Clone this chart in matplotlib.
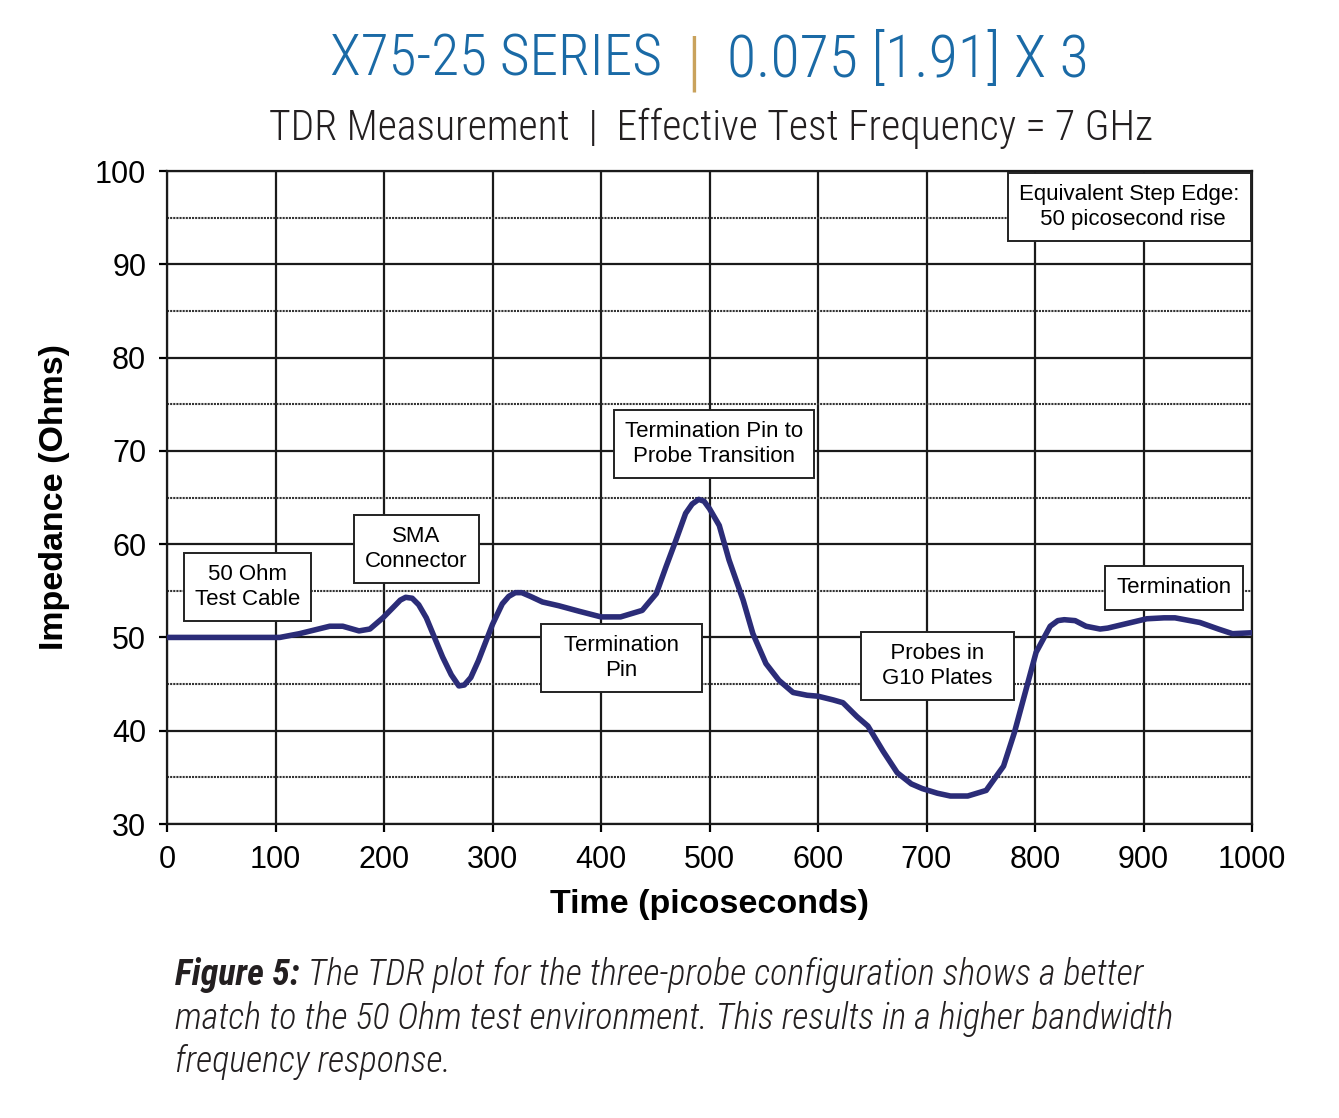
import matplotlib
matplotlib.use("Agg")
import matplotlib.pyplot as plt
import numpy as np

# TDR curve
time_ps = [0, 50, 104, 122, 150, 162, 177, 187, 199, 210, 215, 220, 226, 232, 239, 254,
           262, 269, 274, 280, 287, 300, 309, 315, 321, 327, 335, 346, 361, 380, 400,
           418, 438, 451, 460, 469, 478, 484, 490, 495, 500, 509, 518, 531, 540, 552,
           564, 577, 590, 600, 614, 623, 636, 646, 660, 673, 686, 696, 710, 722, 738,
           755, 771, 781, 791, 801, 814, 821, 827, 837, 847, 860, 867, 885, 903, 919,
           929, 952, 969, 982, 1000]
impedance = [50, 50, 50, 50.4, 51.2, 51.2, 50.7, 50.9, 52.1, 53.4, 54.0, 54.3, 54.2, 53.5,
             52.1, 47.9, 46.0, 44.8, 44.9, 45.7, 47.5, 51.4, 53.6, 54.4, 54.8, 54.8, 54.4,
             53.8, 53.4, 52.8, 52.2, 52.2, 52.9, 54.7, 57.6, 60.4, 63.3, 64.3, 64.8, 64.6,
             63.8, 62.0, 58.3, 54.0, 50.4, 47.2, 45.4, 44.1, 43.8, 43.7, 43.3, 43.0, 41.5,
             40.5, 37.8, 35.5, 34.3, 33.8, 33.3, 33.0, 33.0, 33.6, 36.2, 39.8, 44.1, 48.4,
             51.2, 51.8, 51.9, 51.8, 51.2, 50.9, 51.0, 51.5, 52.0, 52.1, 52.1, 51.6, 50.9,
             50.4, 50.5]

x_ticks = list(range(0, 1001, 100))
y_ticks = list(range(30, 101, 10))

notes = ["50 Ohm\nTest Cable", "SMA\nConnector", "Termination Pin to\nProbe Transition",
         "  Termination  \nPin", "   Probes in   \nG10 Plates", "Termination",
         "Equivalent Step Edge:\n 50 picosecond rise"]
note_x = [74, 230, 504, 419, 710, 928, 887]
note_y = [55.4, 59.5, 70.7, 47.8, 46.9, 55.3, 96.1]

W, H = 1339, 1118
fig = plt.figure(figsize=(W/100, H/100), dpi=100)
ax = fig.add_axes([167/W, 1-824/H, (1252-167)/W, (824-171)/H])

ax.plot(time_ps, impedance, color="#2b2c78", lw=4.0, solid_capstyle="round",
        solid_joinstyle="round", zorder=3)

ax.set_xlim(0, 1000)
ax.set_ylim(30, 100)
ax.set_xticks(x_ticks)
ax.set_yticks(y_ticks)
ax.set_yticks(np.arange(35, 100, 10), minor=True)
ax.grid(which="major", color="#1a1a1a", lw=1.6)
ax.grid(which="minor", axis="y", color="#333333", lw=1.5, ls=(0, (1, 0.5)))
ax.tick_params(which="major", length=6, width=1.6, labelsize=22, pad=9,
               labelfontfamily="Liberation Sans")
ax.tick_params(which="minor", length=0)
for s in ax.spines.values():
    s.set_linewidth(1.6)
    s.set_color("#1a1a1a")

ax.set_xlabel("Time (picoseconds)", fontsize=24.5, fontweight="bold",
              family="Liberation Sans", labelpad=10)
ax.set_ylabel("Impedance (Ohms)", fontsize=24.5, fontweight="bold",
              family="Liberation Sans", labelpad=18)

for t, x, y in zip(notes, note_x, note_y):
    ax.text(x, y, t, ha="center", va="center", fontsize=16, family="Liberation Sans",
            linespacing=1.25, zorder=4,
            bbox=dict(boxstyle="square,pad=0.5", fc="white", ec="#222222", lw=1.4))

narrow = ["Roboto Condensed", "Roboto", "DejaVu Sans"]
fig.canvas.draw()
r = fig.canvas.get_renderer()


def fit_text(x0, x1, yc, s, size, ha="left", **kw):
    # put text at size, then shrink it until it fits the width x0..x1 (pixels)
    xa = {"left": x0, "right": x1, "center": (x0 + x1) / 2}[ha]
    t = fig.text(xa/W, 1-yc/H, s, ha=ha, va="center", fontsize=size, **kw)
    w = t.get_window_extent(renderer=r).width
    if w > (x1 - x0):
        t.set_fontsize(size * (x1 - x0) / w)
    return t


blue = "#1a6aa6"
fit_text(330, 662, 60, "X75-25 SERIES", 46, ha="right", color=blue, family=narrow,
         fontweight="light")
fig.text(694/W, 1-65/H, "|", ha="center", va="center", fontsize=48, color="#c9a25c",
         family=narrow, fontweight="light")
fit_text(727, 1088, 60, "0.075 [1.91] X 3", 46, ha="left", color=blue, family=narrow,
         fontweight="light")
fit_text(268, 1153, 128, "TDR Measurement  |  Effective Test Frequency = 7 GHz", 33,
         ha="center", color="#231f20", family=narrow, fontweight="light")

# caption
ink = "#231f20"
bold = fig.text(175/W, 1-975/H, "Figure 5:", ha="left", va="center", fontsize=26,
                fontweight="bold", style="italic", color=ink, family=narrow)
bb = bold.get_window_extent(renderer=r)
cap1 = fit_text(bb.x1 + 8, 1175, 975,
                "The TDR plot for the three-probe configuration shows a better", 26,
                style="italic", color=ink, family=narrow, fontweight="light")
cap2 = fit_text(175, 1190, 1019,
                "match to the 50 Ohm test environment. This results in a higher bandwidth", 26,
                style="italic", color=ink, family=narrow, fontweight="light")
cs = min(cap1.get_fontsize(), cap2.get_fontsize())
cap1.set_fontsize(cs)
cap2.set_fontsize(cs)
bold.set_fontsize(cs)
fig.canvas.draw()
bb = bold.get_window_extent(renderer=r)
cap1.set_x((bb.x1 + 8)/W)
fig.text(175/W, 1-1062/H, "frequency response.", ha="left", va="center", fontsize=cs,
         style="italic", color=ink, family=narrow, fontweight="light")

fig.savefig("out.png", dpi=100)
